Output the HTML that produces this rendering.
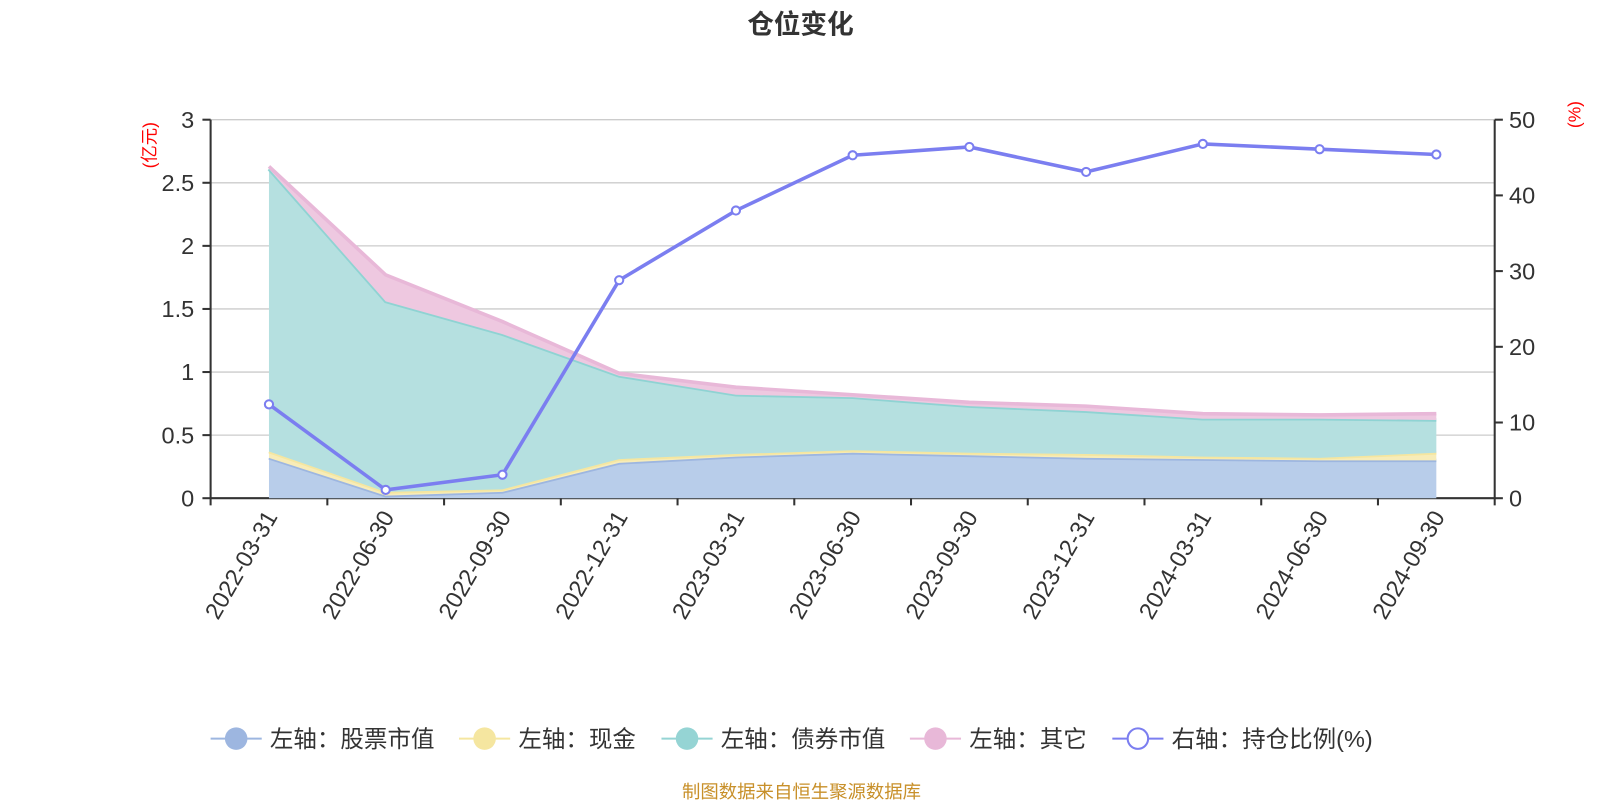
<!DOCTYPE html>
<html><head><meta charset="utf-8"><style>
body{margin:0;background:#fff;font-family:"Liberation Sans","Noto Sans CJK SC",sans-serif;}
svg{display:block}
</style></head><body>
<svg id="chart" width="1600" height="800" viewBox="0 0 1565 782" preserveAspectRatio="none" xmlns="http://www.w3.org/2000/svg" font-family="Liberation Sans, Noto Sans CJK SC, sans-serif">
<text x="783" y="33" text-anchor="middle" font-size="26" font-weight="bold" fill="#333">仓位变化</text>
<text transform="translate(152,142) rotate(-90)" text-anchor="middle" font-size="17" fill="red">(亿元)</text>
<text transform="translate(1546,112) rotate(-90)" text-anchor="middle" font-size="17" fill="red">(%)</text>
<g id="grid"></g><g id="areas"></g><g id="axes"></g><g id="line"></g>
<g id="legend" font-size="23" fill="#333">
<g><line x1="206" y1="722" x2="256" y2="722" stroke="#9db6e0" stroke-width="2"/><circle cx="231" cy="722" r="11" fill="#9db6e0"/><text x="264" y="730">左轴：股票市值</text></g>
<g><line x1="449" y1="722" x2="499" y2="722" stroke="#f5e6a0" stroke-width="2"/><circle cx="474" cy="722" r="11" fill="#f5e6a0"/><text x="507" y="730">左轴：现金</text></g>
<g><line x1="647" y1="722" x2="697" y2="722" stroke="#95d4d4" stroke-width="2"/><circle cx="672" cy="722" r="11" fill="#95d4d4"/><text x="705" y="730">左轴：债券市值</text></g>
<g><line x1="890" y1="722" x2="940" y2="722" stroke="#e8b8d8" stroke-width="2"/><circle cx="915" cy="722" r="11" fill="#e8b8d8"/><text x="948" y="730">左轴：其它</text></g>
<g><line x1="1088" y1="722" x2="1138" y2="722" stroke="#7b7ef0" stroke-width="2"/><circle cx="1113" cy="722" r="10" fill="#fff" stroke="#7b7ef0" stroke-width="2"/><text x="1146" y="730">右轴：持仓比例(%)</text></g>
</g>
<text x="784" y="780" text-anchor="middle" font-size="18" fill="#c8902a">制图数据来自恒生聚源数据库</text>
</svg>
<script>
const categories=["2022-03-31","2022-06-30","2022-09-30","2022-12-31","2023-03-31","2023-06-30","2023-09-30","2023-12-31","2024-03-31","2024-06-30","2024-09-30"];
const stock=[0.32,0.02,0.05,0.28,0.33,0.36,0.34,0.32,0.31,0.30,0.30];
const cash=[0.05,0.03,0.02,0.03,0.02,0.02,0.02,0.03,0.02,0.02,0.06];
const bond=[2.24,1.51,1.23,0.66,0.47,0.42,0.37,0.34,0.30,0.31,0.26];
const other=[0.02,0.21,0.10,0.02,0.06,0.02,0.03,0.04,0.04,0.03,0.05];
const ratio=[12.4,1.1,3.1,28.8,38.0,45.3,46.4,43.1,46.8,46.1,45.4];
const leftTicks=["0","0.5","1","1.5","2","2.5","3"];
const rightTicks=["0","10","20","30","40","50"];
const X0=206,X1=1462,Y0=487,Y1=117,NS="http://www.w3.org/2000/svg";
const bw=(X1-X0)/categories.length;
const x=i=>X0+bw*(i+0.5);
const yL=v=>Y0-(v/3)*(Y0-Y1);
const yR=v=>Y0-(v/50)*(Y0-Y1);
function mk(tag,attrs,parent){const e=document.createElementNS(NS,tag);for(const k in attrs)e.setAttribute(k,attrs[k]);document.getElementById(parent).appendChild(e);return e;}
leftTicks.forEach(t=>{const v=+t;const y=yL(v);
 const g=mk("line",{x1:X0,x2:X1,y1:y,y2:y,stroke:v===0?"#333":"#ccc","stroke-width":v===0?2:1.3},"grid");
 
 
 mk("line",{x1:X0-8,x2:X0,y1:y,y2:y,stroke:"#333","stroke-width":2},"axes");
 const tx=mk("text",{x:X0-16,y:y+8,"text-anchor":"end","font-size":23,fill:"#333"},"axes");tx.textContent=t;
 
 });
rightTicks.forEach(t=>{const y=yR(+t);
 mk("line",{x1:X1,x2:X1+8,y1:y,y2:y,stroke:"#333","stroke-width":2},"axes");
 const tx=mk("text",{x:X1+14,y:y+8,"font-size":23,fill:"#333"},"axes");tx.textContent=t;
 
 });
mk("line",{x1:X0,x2:X0,y1:Y1,y2:Y0,stroke:"#333","stroke-width":2},"axes");
mk("line",{x1:X1,x2:X1,y1:Y1,y2:Y0,stroke:"#333","stroke-width":2},"axes");
for(let i=0;i<=categories.length;i++){const xx=X0+bw*i;mk("line",{x1:xx,x2:xx,y1:Y0,y2:Y0+7,stroke:"#333","stroke-width":2},"axes");}
categories.forEach((c,i)=>{const tx=mk("text",{transform:`translate(${x(i)+9},${Y0+18}) rotate(-60)`,"text-anchor":"end","font-size":23,fill:"#333"},"axes");tx.textContent=c;
 
 });
const series=[[stock,"#b8cdea","#9db6e0","area-stock"],[cash,"#f7ecb8","#f5e6a0","area-cash"],[bond,"#b5e0e0","#8fd3d3","area-bond"],[other,"#eec8e0","#e8b8d8","area-other"]];
let base=categories.map(()=>0);
series.forEach(([arr,fill,stroke,name])=>{
 const top=base.map((b,i)=>b+arr[i]);
 let d="M"+top.map((v,i)=>x(i)+","+yL(v)).join("L");
 for(let i=categories.length-1;i>=0;i--)d+="L"+x(i)+","+yL(base[i]);
 const p=mk("path",{d:d+"Z",fill:fill},"areas");
 
 
 const l=mk("polyline",{points:top.map((v,i)=>x(i)+","+yL(v)).join(" "),fill:"none",stroke:stroke,"stroke-width":3.5},"areas");
 
 
 base=top;});
const pl=mk("polyline",{points:ratio.map((v,i)=>x(i)+","+yR(v)).join(" "),fill:"none",stroke:"#7b7ef0","stroke-width":3.5},"line");


ratio.forEach((v,i)=>{const c=mk("circle",{cx:x(i),cy:yR(v),r:4,fill:"#fff",stroke:"#7b7ef0","stroke-width":2},"line");
 
 });
</script>
</body></html>
